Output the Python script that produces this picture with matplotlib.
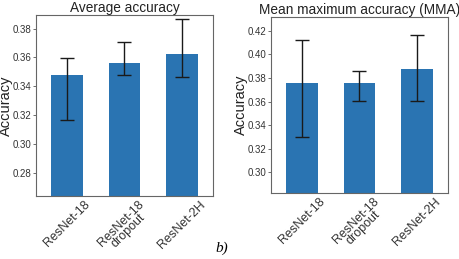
import matplotlib
matplotlib.use('Agg')
import matplotlib.pyplot as plt
import numpy as np

# ---------- data
models = ['ResNet-18', 'ResNet-18\ndropout', 'ResNet-2H']

avg_acc = [0.3476, 0.3565, 0.3621]
avg_lo = [0.3167, 0.3479, 0.3465]
avg_hi = [0.3598, 0.3707, 0.3865]

mma_acc = [0.3757, 0.3757, 0.3873]
mma_lo = [0.3302, 0.3602, 0.3602]
mma_hi = [0.4124, 0.3856, 0.4161]

avg_ticks = [0.28, 0.30, 0.32, 0.34, 0.36, 0.38]
mma_ticks = [0.30, 0.32, 0.34, 0.36, 0.38, 0.40, 0.42]

plt.rcParams['font.family'] = ['Liberation Sans', 'DejaVu Sans']

fig = plt.figure(figsize=(4.59, 2.59), dpi=100)
ax1 = fig.add_axes([0.0784, 0.2432, 0.3856, 0.6977])
ax2 = fig.add_axes([0.5904, 0.256, 0.3856, 0.6795])


def draw(ax, vals, lo, hi, ticks, ylim, title):
	x = np.arange(len(models))
	vals = np.array(vals)
	err = [vals - np.array(lo), np.array(hi) - vals]
	ax.bar(x, vals, width=0.55, color='#2a74b2')
	ax.errorbar(x, vals, yerr=err, fmt='none', ecolor='#1a1a1a', elinewidth=1.0, capsize=5, capthick=1.0)
	ax.set_xlim(-0.54, 2.54)
	ax.set_ylim(*ylim)
	ax.set_yticks(ticks)
	ax.set_yticklabels(['%.2f' % t for t in ticks], fontsize=7, color='#333333')
	ax.set_xticks(x)
	ax.set_xticklabels(models, rotation=45, ha='center', fontsize=9, color='#333333', linespacing=0.75)
	ax.tick_params(axis='y', length=2.5, width=0.6, color='#555555', pad=1)
	ax.tick_params(axis='x', length=0, pad=2)
	for s in ax.spines.values():
		s.set_color('#666666')
		s.set_linewidth(0.8)
	ax.set_ylabel('Accuracy', fontsize=10.5, color='#222222')
	ax.yaxis.set_label_coords(-0.128, 0.5)
	ax.set_title(title, fontsize=9.8, pad=2, color='#222222')


draw(ax1, avg_acc, avg_lo, avg_hi, avg_ticks, (0.2638, 0.3893), 'Average accuracy')
draw(ax2, mma_acc, mma_lo, mma_hi, mma_ticks, (0.2827, 0.432), 'Mean maximum accuracy (MMA)')

fig.text(0.483, 0.04, 'b)', fontsize=11, style='italic', family=['Liberation Serif', 'DejaVu Serif'], ha='center', va='center')

fig.savefig('out.png', dpi=100)
